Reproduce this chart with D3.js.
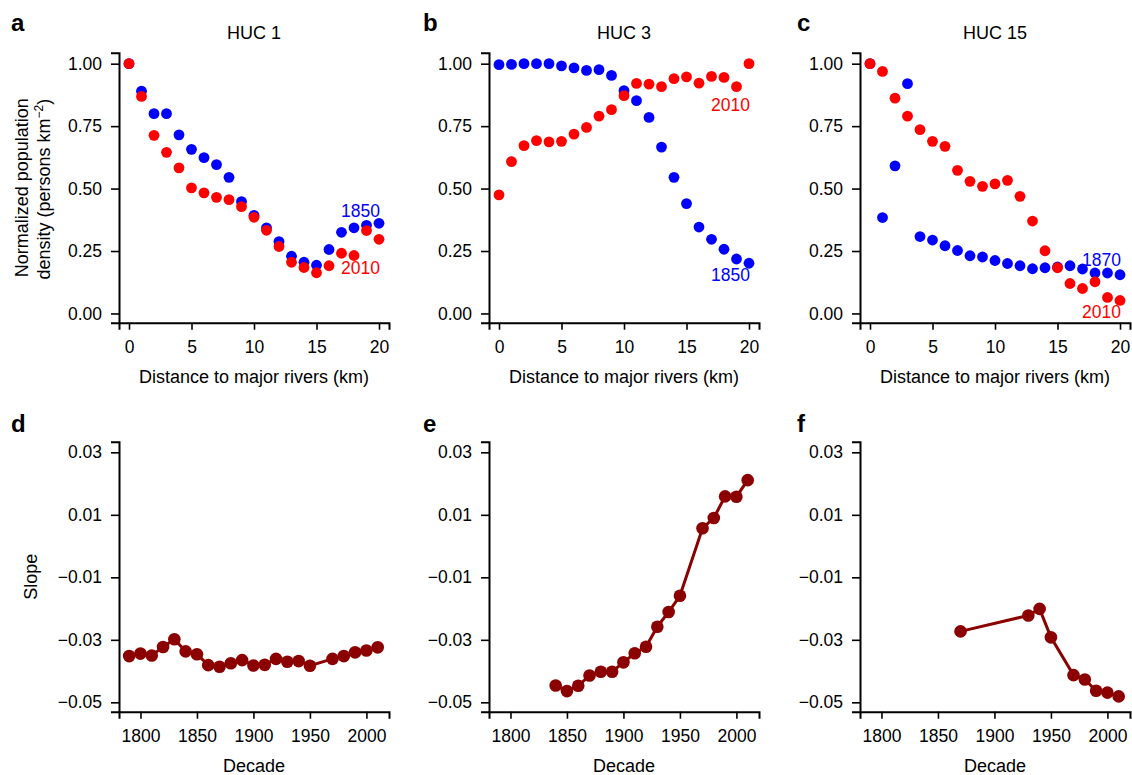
<!DOCTYPE html>
<html>
<head>
<meta charset="utf-8">
<script src="https://cdn.jsdelivr.net/npm/d3@7"></script>
<style>
    body { margin: 0; background: #fff; }
    svg text { font-family: "Liberation Sans", Arial, Helvetica, sans-serif; }
    .axis path, .axis line { stroke: #000; }
    .axis path { stroke-width: 2; }
    .axis line { stroke-width: 1.6; }
</style>
</head>
<body>
<div id="chart"></div>
<script>
const [svgW, svgH] = [1132, 775];
const PLOT_W = 270;
const PLOT_LEFT = [119, 489, 860];
const TOP_ROW = {top: 52.7, bottom: 322.7};
const BOTTOM_ROW = {top: 441.7, bottom: 711.7};
const BLUE = '#0000ff', RED = '#ff0000', DARK_RED = '#8b0000';

// top row: normalized density vs distance to river
const distanceKm = [0, 1, 2, 3, 4, 5, 6, 7, 8, 9, 10, 11, 12, 13, 14, 15, 16, 17, 18, 19, 20];
const distanceTicks = [0, 5, 10, 15, 20];
const densityTicks = [0, 0.25, 0.5, 0.75, 1];

const huc1Early = [1.00, 0.89, 0.80, 0.80, 0.715, 0.657, 0.624, 0.596, 0.545, 0.448, 0.393, 0.343, 0.288, 0.229, 0.205, 0.193, 0.256, 0.325, 0.343, 0.353, 0.361];
const huc1Late = [1.00, 0.869, 0.713, 0.645, 0.583, 0.503, 0.483, 0.465, 0.456, 0.428, 0.385, 0.333, 0.268, 0.205, 0.184, 0.163, 0.191, 0.241, 0.232, 0.332, 0.297];
const huc3Early = [0.996, 0.997, 1.0, 1.0, 1.0, 0.991, 0.983, 0.973, 0.976, 0.953, 0.892, 0.852, 0.785, 0.666, 0.545, 0.44, 0.346, 0.297, 0.257, 0.218, 0.201];
const huc3Late = [0.475, 0.608, 0.672, 0.692, 0.687, 0.689, 0.718, 0.745, 0.79, 0.816, 0.872, 0.921, 0.918, 0.908, 0.94, 0.947, 0.922, 0.949, 0.945, 0.908, 1.0];
const huc15Early = [1.0, 0.384, 0.591, 0.92, 0.308, 0.294, 0.271, 0.252, 0.231, 0.226, 0.212, 0.2, 0.191, 0.179, 0.183, 0.186, 0.191, 0.178, 0.162, 0.162, 0.155];
const huc15Late = [1.0, 0.969, 0.862, 0.79, 0.736, 0.689, 0.669, 0.573, 0.529, 0.509, 0.519, 0.533, 0.469, 0.37, 0.251, 0.183, 0.12, 0.10, 0.127, 0.064, 0.052];

const hucTitles = ['HUC 1', 'HUC 3', 'HUC 15'];
const earlyYears = ['1850', '1850', '1870'];

// bottom row: slope by decade
const decadeTicks = [1800, 1850, 1900, 1950, 2000];
const slopeTicks = [0.03, 0.01, -0.01, -0.03, -0.05];

const decadesD = [1790, 1800, 1810, 1820, 1830, 1840, 1850, 1860, 1870, 1880, 1890, 1900, 1910, 1920, 1930, 1940, 1950, 1970, 1980, 1990, 2000, 2010];
const slopeD = [-0.0352, -0.0344, -0.035, -0.0323, -0.0298, -0.0337, -0.0346, -0.0381, -0.0386, -0.0375, -0.0365, -0.0382, -0.038, -0.0361, -0.037, -0.0368, -0.0383, -0.0361, -0.0352, -0.034, -0.0334, -0.0324];
const decadesE = [1840, 1850, 1860, 1870, 1880, 1890, 1900, 1910, 1920, 1930, 1940, 1950, 1970, 1980, 1990, 2000, 2010];
const slopeE = [-0.0446, -0.0464, -0.0447, -0.0414, -0.0402, -0.0402, -0.0372, -0.0343, -0.0322, -0.0258, -0.0211, -0.0159, 0.0057, 0.009, 0.0159, 0.0158, 0.0211];
const decadesF = [1870, 1930, 1940, 1950, 1970, 1980, 1990, 2000, 2010];
const slopeF = [-0.0273, -0.0222, -0.0201, -0.0292, -0.0413, -0.0427, -0.0463, -0.0469, -0.0481];

const topPanels = [
    {letter: 'a', early: huc1Early, late: huc1Late, labels: [[0.385, 0.158]]},
    {letter: 'b', early: huc3Early, late: huc3Late, labels: [[0.131, 0.812]]},
    {letter: 'c', early: huc15Early, late: huc15Late, labels: [[0.19, -0.019]]}
];
const bottomPanels = [
    {letter: 'd', decades: decadesD, slopes: slopeD},
    {letter: 'e', decades: decadesE, slopes: slopeE},
    {letter: 'f', decades: decadesF, slopes: slopeF}
];
const LETTER_X = [11, 423, 797];

const svg = d3.select('#chart').append('svg').attr('width', svgW).attr('height', svgH);

function styleAxis(g) {
    g.classed('axis', true);
    g.selectAll('text').style('font-size', '17.5px').style('fill', '#000');
}

function drawTopPanel(p, i) {
    let x = d3.scaleLinear().domain([-0.8, 20.8]).range([PLOT_LEFT[i], PLOT_LEFT[i] + PLOT_W]);
    let y = d3.scaleLinear().domain([-0.037, 1.044]).range([TOP_ROW.bottom, TOP_ROW.top]);
    let g = svg.append('g');

    g.append('g').attr('transform', 'translate(0,' + TOP_ROW.bottom + ')')
        .call(d3.axisBottom(x).tickValues(distanceTicks).tickSizeOuter(0).tickSize(7).tickPadding(11))
        .call(styleAxis);
    g.append('g').attr('transform', 'translate(' + PLOT_LEFT[i] + ',0)')
        .call(d3.axisLeft(y).tickValues(densityTicks).tickFormat(d3.format('.2f')).tickSizeOuter(0).tickSize(8).tickPadding(9))
        .call(styleAxis);

    let series = [{values: p.early, color: BLUE}, {values: p.late, color: RED}];
    series.forEach(function (s) {
        g.append('g').selectAll('circle').data(distanceKm).enter().append('circle')
            .attr('cx', function (d) { return x(d); })
            .attr('cy', function (d, j) { return y(s.values[j]); })
            .attr('r', 5.4)
            .attr('fill', s.color);
    });

    g.append('text').attr('x', x(20) + 1).attr('y', y(p.labels[0][0]))
        .attr('text-anchor', 'end').style('font-size', '17.5px').style('fill', BLUE).text(earlyYears[i]);
    g.append('text').attr('x', x(20) + 1).attr('y', y(p.labels[0][1]))
        .attr('text-anchor', 'end').style('font-size', '17.5px').style('fill', RED).text('2010');

    g.append('text').attr('x', PLOT_LEFT[i] + PLOT_W / 2).attr('y', 39)
        .attr('text-anchor', 'middle').style('font-size', '18px').text(hucTitles[i]);
    g.append('text').attr('x', PLOT_LEFT[i] + PLOT_W / 2).attr('y', 382.7)
        .attr('text-anchor', 'middle').style('font-size', '18px').text('Distance to major rivers (km)');
    g.append('text').attr('x', LETTER_X[i]).attr('y', 31)
        .style('font-size', '24px').style('font-weight', 'bold').text(p.letter);
}

function drawBottomPanel(p, i) {
    let x = d3.scaleLinear().domain([1781, 2020]).range([PLOT_LEFT[i], PLOT_LEFT[i] + PLOT_W]);
    let y = d3.scaleLinear().domain([-0.053, 0.0334]).range([BOTTOM_ROW.bottom, BOTTOM_ROW.top]);
    let g = svg.append('g');

    g.append('g').attr('transform', 'translate(0,' + BOTTOM_ROW.bottom + ')')
        .call(d3.axisBottom(x).tickValues(decadeTicks).tickFormat(d3.format('d')).tickSizeOuter(0).tickSize(7).tickPadding(11))
        .call(styleAxis);
    g.append('g').attr('transform', 'translate(' + PLOT_LEFT[i] + ',0)')
        .call(d3.axisLeft(y).tickValues(slopeTicks).tickFormat(d3.format('.2f')).tickSizeOuter(0).tickSize(8).tickPadding(9))
        .call(styleAxis);

    let line = d3.line()
        .x(function (d) { return x(d); })
        .y(function (d, j) { return y(p.slopes[j]); });

    g.append('path').datum(p.decades).attr('d', line)
        .attr('fill', 'none').attr('stroke', DARK_RED).attr('stroke-width', 3);
    g.append('g').selectAll('circle').data(p.decades).enter().append('circle')
        .attr('cx', function (d) { return x(d); })
        .attr('cy', function (d, j) { return y(p.slopes[j]); })
        .attr('r', 6.3)
        .attr('fill', DARK_RED);

    g.append('text').attr('x', PLOT_LEFT[i] + PLOT_W / 2).attr('y', 771.7)
        .attr('text-anchor', 'middle').style('font-size', '18px').text('Decade');
    g.append('text').attr('x', LETTER_X[i]).attr('y', 431.7)
        .style('font-size', '24px').style('font-weight', 'bold').text(p.letter);
}

function drawYTitles() {
    let midTop = (TOP_ROW.top + TOP_ROW.bottom) / 2;
    let t1 = svg.append('text').attr('transform', 'translate(27.5,' + midTop + ') rotate(-90)')
        .attr('text-anchor', 'middle').style('font-size', '18px');
    t1.text('Normalized population');
    let t2 = svg.append('text').attr('transform', 'translate(50,' + (midTop + 1.5) + ') rotate(-90)')
        .attr('text-anchor', 'middle').style('font-size', '18px');
    t2.append('tspan').text('density (persons km');
    t2.append('tspan').attr('dy', -7).style('font-size', '12px').text('\u22122');
    t2.append('tspan').attr('dy', 7).text(')');

    let midBottom = (BOTTOM_ROW.top + BOTTOM_ROW.bottom) / 2;
    svg.append('text').attr('transform', 'translate(37,' + midBottom + ') rotate(-90)')
        .attr('text-anchor', 'middle').style('font-size', '18px').text('Slope');
}

function main() {
    topPanels.forEach(drawTopPanel);
    bottomPanels.forEach(drawBottomPanel);
    drawYTitles();
}

main();
</script>
</body>
</html>
